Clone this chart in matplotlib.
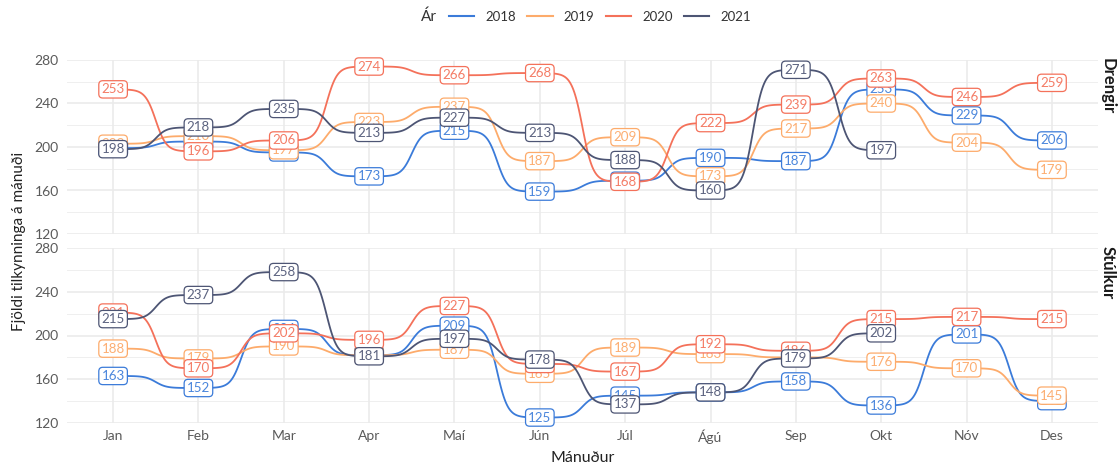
import numpy as np
import matplotlib
matplotlib.use("Agg")
import matplotlib.pyplot as plt
from matplotlib.lines import Line2D

plt.rcParams['font.family'] = ['Lato', 'DejaVu Sans']

months = ["Jan", "Feb", "Mar", "Apr", "Maí", "Jún", "Júl", "Ágú", "Sep", "Okt", "Nóv", "Des"]
years = ["2018", "2019", "2020", "2021"]
panels = ["Drengir", "Stúlkur"]

drengir_2018 = [199, 205, 195, 173, 215, 159, 169, 190, 187, 253, 229, 206]
drengir_2019 = [203, 210, 197, 223, 237, 187, 209, 173, 217, 240, 204, 179]
drengir_2020 = [253, 196, 206, 274, 266, 268, 168, 222, 239, 263, 246, 259]
drengir_2021 = [198, 218, 235, 213, 227, 213, 188, 160, 271, 197, None, None]

stulkur_2018 = [163, 152, 206, 182, 209, 125, 145, 148, 158, 136, 201, 140]
stulkur_2019 = [188, 179, 190, 182, 187, 165, 189, 183, 180, 176, 170, 145]
stulkur_2020 = [221, 170, 202, 196, 227, 174, 167, 192, 186, 215, 217, 215]
stulkur_2021 = [215, 237, 258, 181, 197, 178, 137, 148, 179, 202, None, None]

data = {
    "Drengir": [drengir_2018, drengir_2019, drengir_2020, drengir_2021],
    "Stúlkur": [stulkur_2018, stulkur_2019, stulkur_2020, stulkur_2021],
}

colors = ["#3b7bd9", "#fdab6b", "#f4715a", "#4d5574"]
text_colors = ["#4a86dc", "#fcae72", "#f47c66", "#5c6380"]


def bump(x0, x1, y0, y1, smooth=8, n=100):
    t = np.linspace(-smooth, smooth, n)
    s = 1.0 / (1.0 + np.exp(-t))
    x = x0 + (t + smooth) / (2 * smooth) * (x1 - x0)
    y = y0 + s * (y1 - y0)
    return x, y


W, H = 1118, 468
fig = plt.figure(figsize=(W / 100, H / 100), dpi=100)

left = 67 / W
width = (1098 - 67) / W
tops = [60, 248]
bottoms = [234, 423]

axes = []
for i, panel in enumerate(panels):
    ax = fig.add_axes([left, 1 - bottoms[i] / H, width, (bottoms[i] - tops[i]) / H])
    axes.append(ax)
    xs = np.arange(len(months))
    # grid
    for yv in [140, 180, 220, 260]:
        ax.axhline(yv, color="#efefef", lw=0.7, zorder=0)
    for yv in [120, 160, 200, 240, 280]:
        ax.axhline(yv, color="#ebebeb", lw=1.2, zorder=0)
    for xv in xs:
        ax.axvline(xv, color="#ebebeb", lw=1.2, zorder=0)

    series = data[panel]
    # lines
    for k, vals in enumerate(series):
        pts = [(j, v) for j, v in enumerate(vals) if v is not None]
        for (xa, ya), (xb, yb) in zip(pts[:-1], pts[1:]):
            bx, by = bump(xa, xb, ya, yb)
            ax.plot(bx, by, color=colors[k], lw=1.3, zorder=2 + k * 0.01,
                    solid_capstyle="round")
    # labels
    for k, vals in enumerate(series):
        for j, v in enumerate(vals):
            if v is None:
                continue
            ax.text(j, v, str(v), ha="center", va="center", fontsize=9.6,
                    color=text_colors[k], zorder=5 + k, clip_on=False,
                    bbox=dict(boxstyle="round,pad=0.2,rounding_size=0.3",
                              fc="white", ec=colors[k], lw=0.9))

    ax.set_xlim(-0.54, len(months) - 1 + 0.54)
    ax.set_ylim(120, 280)
    ax.set_yticks([120, 160, 200, 240, 280])
    ax.set_xticks(xs)
    if i == 1:
        ax.set_xticklabels(months)
    else:
        ax.set_xticklabels([])
    for s in ax.spines.values():
        s.set_visible(False)
    ax.tick_params(axis="both", length=0, labelsize=10, labelcolor="#5a5a5a")
    ax.tick_params(axis="y", pad=6)
    ax.tick_params(axis="x", pad=5)
    ax.set_facecolor("white")

    fig.text(1108 / W, 1 - (tops[i] - 2) / H, panel, rotation=-90, ha="center",
             va="top", fontsize=12, fontweight="bold", color="#1a1a1a")

fig.text(19 / W, 1 - 241.5 / H, "Fjöldi tilkynninga á mánuði", rotation=90,
         ha="center", va="center", fontsize=11, color="#222222")
fig.text(582.5 / W, 1 - 458 / H, "Mánuður", ha="center", va="center",
         fontsize=11.5, color="#222222")

handles = [Line2D([0], [0], color=c, lw=1.5) for c in colors]
fig.legend(handles, years, ncol=4, loc="center", bbox_to_anchor=(600 / W, 1 - 17 / H),
           frameon=False, fontsize=9.5, handlelength=1.9, handletextpad=0.85,
           columnspacing=0.85, labelcolor="#333333")
fig.text(437 / W, 1 - 17 / H, "Ár", ha="right", va="center", fontsize=11,
         color="#333333")

fig.savefig("out.png", dpi=100, facecolor="white")
